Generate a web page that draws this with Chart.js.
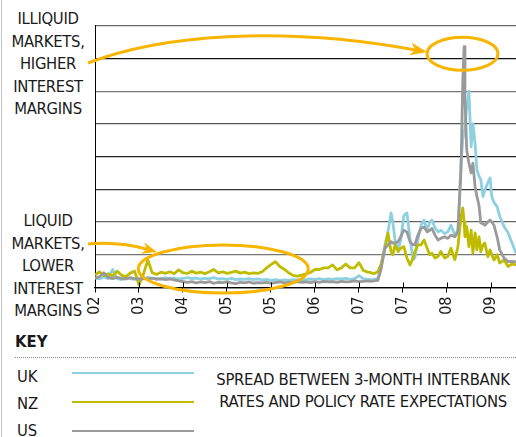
<!DOCTYPE html>
<html>
<head>
<meta charset="utf-8">
<script src="https://cdn.jsdelivr.net/npm/chart.js@4.4.1/dist/chart.umd.min.js"></script>
<style>
  body { margin: 0; background: #fff; }
  #wrap { position: relative; width: 516px; height: 437px; overflow: hidden; background: #fff;
          font-family: 'Liberation Sans Narrow', 'DejaVu Sans Condensed', sans-serif; color: #1a1a1a; }
  #c { position: absolute; left: 0; top: 0; }
  .side { position: absolute; left: 0; width: 96px; text-align: center; font-size: 16.5px; line-height: 22.5px; letter-spacing: -0.3px; }
  .key { position: absolute; font-size: 16.5px; line-height: 22px; }
  .swatch { position: absolute; left: 72px; width: 122px; height: 2px; }
</style>
</head>
<body>
<div id="wrap">
  <div style="position:absolute;left:1px;top:0;width:1px;height:437px;background:#c4c4c4"></div>
  <div class="side" style="top:8px">ILLIQUID<br>MARKETS,<br>HIGHER<br>INTEREST<br>MARGINS</div>
  <div class="side" style="top:210px">LIQUID<br>MARKETS,<br>LOWER<br>INTEREST<br>MARGINS</div>
  <canvas id="c" width="516" height="330"></canvas>
  <div class="key" style="left:15px;top:331px;font-weight:bold">KEY</div>
  <div style="position:absolute;left:15px;top:357px;width:501px;border-top:1px dotted #8a8a8a"></div>
  <div class="key" style="left:17px;top:366px">UK</div>
  <div class="key" style="left:17px;top:393px">NZ</div>
  <div class="key" style="left:17px;top:420px">US</div>
  <div class="swatch" style="top:372px;background:#8dd0e2"></div>
  <div class="swatch" style="top:401px;background:#bfbc00"></div>
  <div class="swatch" style="top:430px;background:#9a9a9a"></div>
  <div class="key" style="left:210px;top:369px;width:306px;text-align:center;letter-spacing:-0.3px">SPREAD BETWEEN 3-MONTH INTERBANK<br>RATES AND POLICY RATE EXPECTATIONS</div>
</div>
<script>
// tick labels as printed on the original axis
const xLabels = ['02', '03', '04', '05', '05', '06', '07', '07', '08', '09'];

// positions along the time axis (one unit per tick)
const xs = [
  0.0, 0.1, 0.2, 0.3, 0.4, 0.5, 0.6, 0.7, 0.8, 0.9,
  1.0, 1.1, 1.2, 1.3, 1.4, 1.5, 1.6, 1.7, 1.8, 1.9,
  2.0, 2.1, 2.2, 2.3, 2.4, 2.5, 2.6, 2.7, 2.8, 2.9,
  3.0, 3.1, 3.2, 3.3, 3.4, 3.5, 3.6, 3.7, 3.8, 3.9,
  4.0, 4.1, 4.2, 4.3, 4.4, 4.5, 4.6, 4.7, 4.8, 4.9,
  5.0, 5.1, 5.2, 5.3, 5.4, 5.5, 5.6, 5.7, 5.8, 5.9,
  6.0, 6.1, 6.2,
  6.25, 6.34, 6.43, 6.50, 6.59, 6.66, 6.73, 6.77, 6.82, 6.89,
  6.95, 7.02, 7.09, 7.16, 7.23, 7.27, 7.34, 7.41, 7.48, 7.55,
  7.61, 7.66, 7.73, 7.80, 7.86, 7.95, 8.02, 8.09, 8.18, 8.25,
  8.32, 8.36, 8.39, 8.41, 8.45, 8.50, 8.55, 8.59, 8.64, 8.68,
  8.73, 8.77, 8.82, 8.86, 8.93, 8.98, 9.02, 9.07, 9.14, 9.20,
  9.30, 9.39, 9.48, 9.57
];

const uk = [
  0.30, 0.26, 0.32, 0.27, 0.55, 0.28, 0.24, 0.30, 0.27, 0.25,
  0.29, 0.26, 0.31, 0.27, 0.28, 0.25, 0.30, 0.27, 0.29, 0.26,
  0.28, 0.30, 0.27, 0.29, 0.26, 0.28, 0.27, 0.30, 0.26, 0.27,
  0.25, 0.28, 0.24, 0.26, 0.25, 0.27, 0.24, 0.26, 0.23, 0.25,
  0.22, 0.24, 0.21, 0.23, 0.22, 0.24, 0.23, 0.25, 0.24, 0.26,
  0.25, 0.27, 0.24, 0.26, 0.25, 0.27, 0.26, 0.28, 0.25, 0.27,
  0.36, 0.26, 0.25,
  0.24, 0.24, 0.28, 0.60, 1.30, 1.70, 2.28, 2.00, 1.45, 1.15,
  1.45, 2.20, 2.28, 1.50, 0.85, 0.90, 1.45, 1.90, 2.06, 1.75,
  2.00, 2.06, 1.82, 1.70, 1.75, 1.65, 1.70, 1.90, 1.60, 1.75,
  3.80, 4.50, 4.80, 5.00, 5.50, 6.00, 4.30, 5.00, 4.40, 3.60,
  3.40, 3.30, 2.78, 2.98, 3.20, 3.35, 2.78, 2.60, 2.47, 2.17,
  1.86, 1.67, 1.36, 1.05
];

const nz = [
  0.38, 0.48, 0.36, 0.42, 0.35, 0.50, 0.38, 0.33, 0.44, 0.50,
  0.08, 0.40, 0.84, 0.45, 0.40, 0.47, 0.43, 0.48, 0.42, 0.54,
  0.45, 0.43, 0.50, 0.44, 0.47, 0.42, 0.48, 0.55, 0.45, 0.48,
  0.43, 0.46, 0.50, 0.44, 0.47, 0.42, 0.45, 0.43, 0.48, 0.60,
  0.70, 0.79, 0.64, 0.56, 0.45, 0.37, 0.35, 0.38, 0.42, 0.46,
  0.55, 0.55, 0.60, 0.60, 0.69, 0.54, 0.60, 0.72, 0.60, 0.60,
  0.76, 0.52, 0.47,
  0.46, 0.42, 0.48, 0.70, 1.20, 1.66, 1.10, 1.00, 1.30, 1.10,
  1.20, 1.25, 0.90, 0.69, 0.90, 1.10, 1.30, 1.30, 1.45, 1.20,
  1.00, 1.05, 0.90, 0.95, 1.10, 0.90, 0.95, 1.20, 0.85, 1.25,
  2.17, 2.43, 2.00, 1.55, 1.86, 1.25, 1.75, 1.05, 1.67, 1.15,
  1.55, 1.10, 1.30, 1.36, 0.94, 1.15, 1.00, 0.84, 1.00, 0.75,
  0.84, 0.64, 0.72, 0.69
];

const us = [
  0.28, 0.33, 0.45, 0.30, 0.27, 0.31, 0.28, 0.26, 0.30, 0.27,
  0.25, 0.28, 0.26, 0.29, 0.25, 0.27, 0.24, 0.26, 0.23, 0.20,
  0.18, 0.16, 0.18, 0.14, 0.17, 0.15, 0.18, 0.13, 0.16, 0.15,
  0.17, 0.14, 0.12, 0.16, 0.14, 0.17, 0.13, 0.15, 0.14, 0.16,
  0.13, 0.15, 0.17, 0.14, 0.16, 0.15, 0.18, 0.16, 0.17, 0.15,
  0.18, 0.16, 0.19, 0.17, 0.18, 0.16, 0.19, 0.17, 0.18, 0.20,
  0.18, 0.19, 0.20,
  0.19, 0.20, 0.22, 0.55, 1.20, 1.30, 1.40, 1.36, 1.36, 1.40,
  1.55, 1.75, 1.70, 1.40, 1.30, 1.30, 1.60, 1.80, 1.85, 1.70,
  1.75, 1.80, 1.60, 1.45, 1.50, 1.55, 1.50, 1.60, 1.55, 1.70,
  3.60, 6.30, 7.36, 5.80, 4.20, 3.80, 3.50, 3.80, 3.08, 2.80,
  2.50, 1.97, 1.95, 1.90, 2.00, 2.06, 2.00, 1.90, 1.55, 1.15,
  0.90, 0.79, 0.80, 0.78
];

const orange = '#f7b500';
const gridColors = ['#000', '#777', '#666', '#333', '#222', '#555', '#777', '#111', '#666'];
const fontFamily = "'Liberation Sans Narrow', 'DejaVu Sans Condensed', sans-serif";

const toPoints = (vals) => vals.map((v, i) => ({ x: xs[i], y: v }));

// arrow with a notched head, the curve stops inside the head
const drawArrow = (ctx, p0, c1, c2, tip, len, half) => {
  const a = Math.atan2(tip[1] - c2[1], tip[0] - c2[0]);
  const cos = Math.cos(a), sin = Math.sin(a);
  const endX = tip[0] - len * 0.6 * cos, endY = tip[1] - len * 0.6 * sin;
  ctx.beginPath();
  ctx.moveTo(p0[0], p0[1]);
  ctx.bezierCurveTo(c1[0], c1[1], c2[0], c2[1], endX, endY);
  ctx.stroke();
  const bx = tip[0] - len * cos, by = tip[1] - len * sin;
  ctx.beginPath();
  ctx.moveTo(tip[0], tip[1]);
  ctx.lineTo(bx - half * sin, by + half * cos);
  ctx.lineTo(tip[0] - len * 0.7 * cos, tip[1] - len * 0.7 * sin);
  ctx.lineTo(bx + half * sin, by - half * cos);
  ctx.closePath();
  ctx.fill();
};

const annotate = {
  id: 'annotate',
  afterDraw(chart) {
    const ctx = chart.ctx;
    const xScale = chart.scales.x;
    const bottom = chart.chartArea.bottom;
    ctx.save();
    // tick marks poke above the axis too
    ctx.strokeStyle = '#000';
    ctx.lineWidth = 1;
    xLabels.forEach((_, i) => {
      const px = Math.round(xScale.getPixelForValue(i)) + 0.5;
      ctx.beginPath();
      ctx.moveTo(px, bottom - 5);
      ctx.lineTo(px, bottom);
      ctx.stroke();
    });

    ctx.strokeStyle = orange;
    ctx.fillStyle = orange;
    ctx.lineWidth = 3;
    ctx.beginPath();
    ctx.ellipse(462.5, 53.7, 35.5, 16.5, 0, 0, Math.PI * 2);
    ctx.stroke();
    ctx.beginPath();
    ctx.ellipse(223.3, 269, 85, 24, 0, 0, Math.PI * 2);
    ctx.stroke();

    drawArrow(ctx, [88, 63], [160, 35], [280, 25], [427, 52], 17, 6.5);
    drawArrow(ctx, [88, 244], [112, 242], [132, 245], [157, 252], 15, 6);
    ctx.restore();
  }
};

new Chart(document.getElementById('c'), {
  type: 'line',
  data: {
    datasets: [
      { label: 'US', data: toPoints(us), borderColor: '#9a9a9a' },
      { label: 'NZ', data: toPoints(nz), borderColor: '#bfbc00' },
      { label: 'UK', data: toPoints(uk), borderColor: '#8dd0e2' }
    ]
  },
  options: {
    responsive: false,
    animation: false,
    devicePixelRatio: 1,
    layout: { padding: { left: 95, top: 25.7, right: 0, bottom: 0 } },
    elements: {
      point: { radius: 0 },
      line: { borderWidth: 2.8, tension: 0, borderJoinStyle: 'round' }
    },
    plugins: { legend: { display: false }, tooltip: { enabled: false } },
    scales: {
      x: {
        type: 'linear',
        min: 0,
        max: 9.57,
        afterBuildTicks: (scale) => { scale.ticks = xLabels.map((_, i) => ({ value: i })); },
        afterFit: (scale) => { scale.height = 42.5; },
        border: { display: true, color: '#000', width: 1.2 },
        grid: { display: true, drawOnChartArea: false, drawTicks: true, tickLength: 5, color: '#000' },
        ticks: {
          autoSkip: false,
          minRotation: 90,
          maxRotation: 90,
          padding: 4,
          color: '#1a1a1a',
          font: { family: fontFamily, size: 16 },
          callback: (v) => xLabels[v]
        }
      },
      y: {
        min: 0,
        max: 8,
        afterFit: (scale) => { scale.width = 0; },
        border: { display: true, color: '#000', width: 1 },
        grid: {
          drawTicks: false,
          lineWidth: 1.3,
          color: (c) => gridColors[c.tick.value] || '#555'
        },
        ticks: { display: false, stepSize: 1 }
      }
    }
  },
  plugins: [annotate]
});
</script>
</body>
</html>
